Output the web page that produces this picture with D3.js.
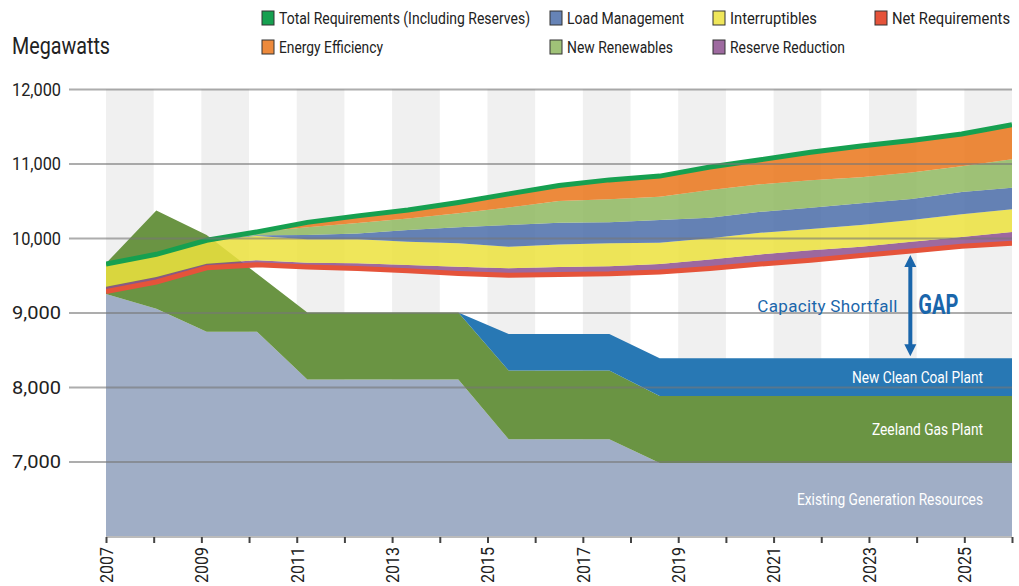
<!DOCTYPE html>
<html>
<head>
<meta charset="utf-8">
<script src="https://cdn.jsdelivr.net/npm/d3@7"></script>
<style>
body { margin: 0; background: #fff; }
svg text { font-family: "Liberation Sans Narrow", Roboto, "Noto Sans", sans-serif; }
</style>
</head>
<body>
<script>
// data points, one per year
var years = [2007,2008,2009,2010,2011,2012,2013,2014,2015,2016,2017,2018,2019,2020,2021,2022,2023,2024,2025];
var axisYears = [2007,2008,2009,2010,2011,2012,2013,2014,2015,2016,2017,2018,2019,2020,2021,2022,2023,2024,2025,2026];
var yTicks = [7000,8000,9000,10000,11000,12000];

// supply side
var existing = [9250,9050,8740,8740,8100,8100,8100,8100,7300,7300,7300,6980,6980,6980,6980,6980,6980,6980,6980];
var zeeland  = [410,1320,1300,780,900,900,900,900,920,920,920,900,900,900,900,900,900,900,900];
var coal     = [0,0,0,0,0,0,0,0,490,490,490,505,505,505,505,505,505,505,505];

// demand side
var netReq    = [9280,9410,9600,9640,9610,9590,9560,9525,9500,9510,9520,9545,9590,9650,9700,9765,9825,9890,9930];
var reserve   = [65,67,53,63,58,70,77,89,93,102,100,105,123,130,135,119,125,125,152];
var interrupt = [305,304,316,324,314,322,313,314,290,301,308,287,282,290,285,291,291,304,304];
var loadMgmt  = [0,0,0,10,58,80,157,215,291,292,282,304,277,282,285,291,281,299,287];
var renew     = [0,0,0,45,103,138,156,188,237,293,310,312,371,368,370,351,357,345,384];
var effic     = [0,0,0,0,67,97,112,145,181,207,260,278,309,330,375,418,429,432,464];

var W = 1019, H = 586;
var pL = 106, pR = 1012, pT = 89, pB = 536;

var svg = d3.select("body").append("svg").attr("width", W).attr("height", H);

var xAxisScale = d3.scaleLinear().domain([2007, 2026]).range([pL, pR]);
var xData = d3.scaleLinear().domain([2007, 2025]).range([pL, pR]);
var y = d3.scaleLinear().domain([6000, 12000]).range([pB, pT]);

svg.append("clipPath").attr("id", "plot")
  .append("rect").attr("x", pL).attr("y", pT).attr("width", pR - pL).attr("height", pB - pT);

// stripes
svg.append("g").selectAll("rect")
  .data(axisYears.filter(function(d) { return d % 2 == 1 && d < 2026; }))
  .enter().append("rect")
  .attr("x", function(d) { return xAxisScale(d); })
  .attr("width", function(d) { return xAxisScale(d + 1) - xAxisScale(d); })
  .attr("y", pT).attr("height", pB - pT)
  .attr("fill", "#f0f0f0");

var rows = years.map(function(yr, i) {
  return {year: yr, existing: existing[i], zeeland: zeeland[i], coal: coal[i],
    net: netReq[i], reserve: reserve[i], interrupt: interrupt[i], load: loadMgmt[i], renew: renew[i], effic: effic[i]};
});

var area = d3.area()
  .x(function(d) { return xData(d.data.year); })
  .y0(function(d) { return y(d[0]); })
  .y1(function(d) { return y(d[1]); });

var supply = d3.stack().keys(["existing", "zeeland", "coal"])(rows);
var supplyColors = {existing: "#a0aec6", zeeland: "#6a9443", coal: "#2878b4"};

var g = svg.append("g").attr("clip-path", "url(#plot)");
g.selectAll("path.sup").data(supply).enter().append("path")
  .attr("class", "sup")
  .attr("d", area)
  .attr("fill", function(d) { return supplyColors[d.key]; });

var demand = d3.stack().keys(["net", "reserve", "interrupt", "load", "renew", "effic"])(rows);
var demandColors = {reserve: "#8d508f", interrupt: "#ece23d", load: "#4b6da9", renew: "#8fb860", effic: "#ea761a"};

g.selectAll("path.dem").data(demand.slice(1)).enter().append("path")
  .attr("class", "dem")
  .attr("d", area)
  .attr("fill", function(d) { return demandColors[d.key]; })
  .attr("fill-opacity", 0.85);

var line = d3.line()
  .x(function(d) { return xData(d.data.year); })
  .y(function(d) { return y(d[1]); });

g.append("path").datum(demand[0]).attr("d", line)
  .attr("fill", "none").attr("stroke", "#e5533a").attr("stroke-width", 5);
g.append("path").datum(demand[5]).attr("d", line)
  .attr("fill", "none").attr("stroke", "#16a050").attr("stroke-width", 5);

// y axis with gridlines
var yAxis = svg.append("g").attr("transform", "translate(69,0)")
  .call(d3.axisLeft(y).tickValues(yTicks).tickSize(-(pR - 69)).tickPadding(8).tickFormat(d3.format(",")));
yAxis.select(".domain").remove();
yAxis.selectAll("line").attr("stroke", "#777").attr("stroke-opacity", 0.6).attr("stroke-width", 2);
yAxis.selectAll("text").attr("font-size", 19).attr("fill", "#222")
  .attr("textLength", 49).attr("lengthAdjust", "spacingAndGlyphs");

// x axis
svg.append("line").attr("x1", pL).attr("x2", pR).attr("y1", pB + 1).attr("y2", pB + 1)
  .attr("stroke", "#bbb").attr("stroke-width", 2);
var xAxis = svg.append("g").attr("transform", "translate(0," + (pB + 1) + ")")
  .call(d3.axisBottom(xAxisScale).tickValues(axisYears).tickSize(6)
    .tickFormat(function(d) { return d % 2 == 1 && d < 2026 ? d : ""; }));
xAxis.select(".domain").remove();
xAxis.selectAll("line").attr("stroke", "#444").attr("stroke-width", 2);
xAxis.selectAll("text")
  .attr("font-size", 18).attr("fill", "#222")
  .attr("transform", "rotate(-90)")
  .attr("text-anchor", "end")
  .attr("x", -10).attr("y", 0).attr("dy", "0.35em")
  .attr("textLength", function(d) { return d % 2 == 1 && d < 2026 ? 36 : null; })
  .attr("lengthAdjust", "spacingAndGlyphs");

svg.append("text").attr("x", 12).attr("y", 54).attr("font-size", 24).attr("fill", "#222")
  .attr("textLength", 98).attr("lengthAdjust", "spacingAndGlyphs").text("Megawatts");

// band labels
var last = rows.length - 1;
var bandLabels = [
  {text: "New Clean Coal Plant", w: 131, lo: supply[2][last][0], hi: supply[2][last][1]},
  {text: "Zeeland Gas Plant", w: 111, lo: supply[1][last][0], hi: supply[1][last][1]},
  {text: "Existing Generation Resources", w: 186, lo: 6000, hi: supply[0][last][1]}
];
svg.selectAll("text.band").data(bandLabels).enter().append("text")
  .attr("class", "band")
  .attr("x", function(d) { return 983 - d.w; })
  .attr("y", function(d) { return y((d.lo + d.hi) / 2) + 6; })
  .attr("font-size", 17).attr("fill", "#fff")
  .attr("textLength", function(d) { return d.w; }).attr("lengthAdjust", "spacingAndGlyphs")
  .text(function(d) { return d.text; });

// gap arrow
var gi = 16;
var ax = xData(years[gi]) - 1;
var aTop = y(netReq[gi]) + 4, aBot = y(supply[2][gi][1]) - 2;
var blue = "#1a66ab";
svg.append("line").attr("x1", ax).attr("x2", ax).attr("y1", aTop + 10).attr("y2", aBot - 10)
  .attr("stroke", blue).attr("stroke-width", 4);
svg.append("path").attr("d", "M" + ax + "," + aTop + "l-6,12h12z").attr("fill", blue);
svg.append("path").attr("d", "M" + ax + "," + aBot + "l-6,-12h12z").attr("fill", blue);
svg.append("text").attr("x", ax - 153).attr("y", 312)
  .attr("font-size", 17).attr("fill", blue)
  .attr("textLength", 140).attr("lengthAdjust", "spacing").text("Capacity Shortfall");
svg.append("text").attr("x", ax + 8).attr("y", 314).attr("font-size", 27).attr("font-weight", "bold")
  .attr("fill", blue).attr("textLength", 40).attr("lengthAdjust", "spacingAndGlyphs").text("GAP");

// legend
var legendNames = ["Total Requirements (Including Reserves)", "Load Management", "Interruptibles", "Net Requirements",
  "Energy Efficiency", "New Renewables", "Reserve Reduction"];
var legendWidths = [251, 117, 87, 118, 104, 106, 115];
var legendColors = ["#16a050", "#6683b6", "#efe65a", "#e5533a", "#ed8a3c", "#a0c278", "#9e6aa0"];
var legendX = [262, 550, 713, 875];
var legend = svg.append("g").selectAll("g").data(legendNames).enter().append("g")
  .attr("transform", function(d, i) { return "translate(" + legendX[i % 4] + "," + (i < 4 ? 11 : 40) + ")"; });
legend.append("rect").attr("width", 12).attr("height", 14)
  .attr("fill", function(d, i) { return legendColors[i]; })
  .attr("stroke", "#333").attr("stroke-width", 1);
legend.append("text").attr("x", 17).attr("y", 13).attr("font-size", 17).attr("fill", "#222")
  .attr("textLength", function(d, i) { return legendWidths[i]; }).attr("lengthAdjust", "spacingAndGlyphs")
  .text(function(d) { return d; });
</script>
</body>
</html>
